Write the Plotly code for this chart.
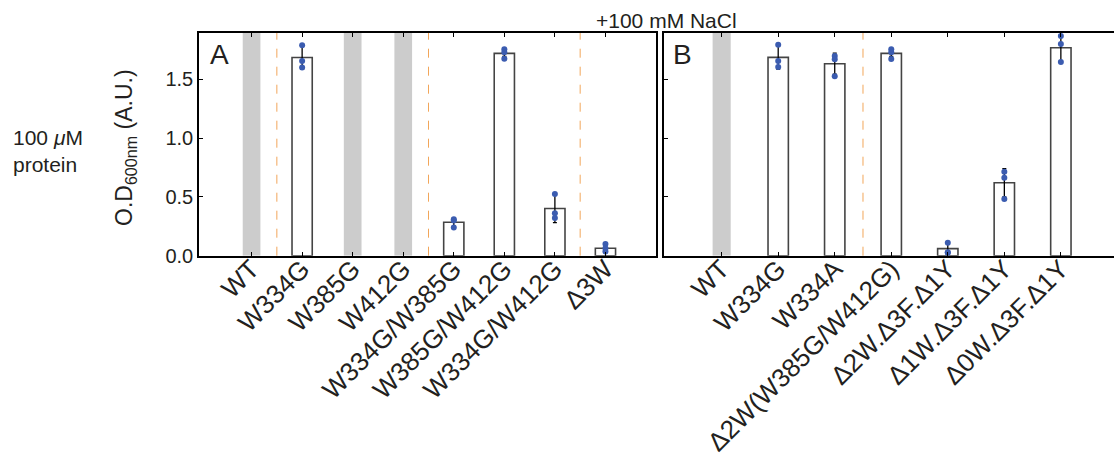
import plotly.graph_objects as go

# ---------------- data ----------------
cats_a = ["WT", "W334G", "W385G", "W412G", "W334G/W385G", "W385G/W412G", "W334G/W412G", "Δ3W"]
mean_a = [None, 1.685, None, None, 0.284, 1.721, 0.401, 0.063]
err_a = [None, 0.10, None, None, 0.035, 0.025, 0.12, 0.035]
rep1_a = [None, 1.79, None, None, 0.31, 1.755, 0.525, 0.10]
rep2_a = [None, 1.655, None, None, 0.30, 1.73, 0.36, 0.063]
rep3_a = [None, 1.60, None, None, 0.24, 1.675, 0.32, 0.035]
gray_a = ["WT", "W385G", "W412G"]
sep_a = [0.5, 3.5, 6.5]

cats_b = ["WT", "W334G", "W334A", "Δ2W(W385G/W412G)", "Δ2W.Δ3F.Δ1Y", "Δ1W.Δ3F.Δ1Y", "Δ0W.Δ3F.Δ1Y"]
mean_b = [None, 1.687, 1.633, 1.721, 0.06, 0.62, 1.769]
err_b = [None, 0.10, 0.09, 0.025, 0.045, 0.12, 0.11]
rep1_b = [None, 1.794, 1.698, 1.755, 0.11, 0.714, 1.868]
rep2_b = [None, 1.656, 1.67, 1.73, 0.03, 0.663, 1.80]
rep3_b = [None, 1.605, 1.526, 1.673, 0.025, 0.482, 1.647]
gray_b = ["WT"]
sep_b = [2.5]

y_max = 1.894
y_ticks = [0.0, 0.5, 1.0, 1.5]

# ---------------- styling ----------------
W, H = 1114, 461
FONT = "Liberation Sans, Arial, sans-serif"
TXT = "#231f20"
BLUE = "#3b5cb0"
GRAY = "#cccccc"
ORANGE = "#f2a65a"


def px_x(p):
    return p / W


def px_y(p):
    return 1 - p / H


fig = go.Figure()


def add_panel(cats, mean, err, reps, gray, xa, ya, bar_w, gray_w):
    # gray "not determined" bands
    fig.add_trace(go.Bar(
        x=gray, y=[y_max] * len(gray), width=gray_w, marker=dict(color=GRAY, line=dict(width=0)),
        xaxis=xa, yaxis=ya, showlegend=False, hoverinfo="skip"))
    # mean bars
    fig.add_trace(go.Bar(
        x=cats, y=mean, width=bar_w,
        marker=dict(color="white", line=dict(color="#444444", width=1.6)),
        error_y=dict(type="data", array=err, visible=True, color="black", thickness=1.3, width=2),
        xaxis=xa, yaxis=ya, showlegend=False))
    # replicates
    for r in reps:
        fig.add_trace(go.Scatter(
            x=cats, y=r, mode="markers",
            marker=dict(color=BLUE, size=6, symbol="circle"),
            xaxis=xa, yaxis=ya, showlegend=False, cliponaxis=False))


add_panel(cats_a, mean_a, err_a, [rep1_a, rep2_a, rep3_a], gray_a, "x", "y", 0.40, 0.35)
add_panel(cats_b, mean_b, err_b, [rep1_b, rep2_b, rep3_b], gray_b, "x2", "y2", 0.36, 0.32)

shapes = []
for s in sep_a:
    shapes.append(dict(type="line", xref="x", yref="y domain", x0=s, x1=s, y0=0, y1=1,
                       line=dict(color=ORANGE, width=1, dash="dash"), layer="below"))
for s in sep_b:
    shapes.append(dict(type="line", xref="x2", yref="y2 domain", x0=s, x1=s, y0=0, y1=1,
                       line=dict(color=ORANGE, width=1, dash="dash"), layer="below"))

ydom = [px_y(255.7), px_y(33)]

xaxis_common = dict(
    type="category", showline=True, linecolor="black", linewidth=1.5, mirror="ticks",
    ticks="inside", ticklen=4, tickcolor="black", tickwidth=1, tickangle=-45,
    ticklabelstandoff=-14,
    tickfont=dict(family=FONT, size=26, color=TXT), showgrid=False, zeroline=False,
    automargin=False, fixedrange=True)

yaxis_common = dict(
    range=[0, y_max], tickvals=y_ticks, showline=True, linecolor="black", linewidth=1.5,
    ticks="inside", ticklen=4, tickcolor="black", tickwidth=1, showgrid=False,
    zeroline=False, automargin=False, domain=ydom,
    tickfont=dict(family=FONT, size=20, color=TXT))

fig.update_layout(
    width=W, height=H, margin=dict(l=0, r=0, t=0, b=0),
    paper_bgcolor="white", plot_bgcolor="white", barmode="overlay",
    xaxis=dict(xaxis_common, domain=[px_x(199), px_x(656)], range=[-1.04, 8.0],
               categoryorder="array", categoryarray=cats_a, anchor="y"),
    xaxis2=dict(xaxis_common, domain=[px_x(664), 1.0], range=[-1.02, 6.94],
                categoryorder="array", categoryarray=cats_b, anchor="y2"),
    yaxis=dict(yaxis_common, anchor="x", mirror=True, tickformat=".1f"),
    yaxis2=dict(yaxis_common, anchor="x2", mirror=False, showticklabels=False),
    shapes=shapes,
    annotations=[
        dict(text="A", x=px_x(208), y=px_y(54), xref="paper", yref="paper", xanchor="left",
             yanchor="middle", showarrow=False, font=dict(family=FONT, size=28, color=TXT)),
        dict(text="B", x=px_x(671), y=px_y(54), xref="paper", yref="paper", xanchor="left",
             yanchor="middle", showarrow=False, font=dict(family=FONT, size=28, color=TXT)),
        dict(text="+100 mM NaCl", x=px_x(666), y=px_y(20), xref="paper", yref="paper",
             xanchor="center", yanchor="middle", showarrow=False,
             font=dict(family=FONT, size=21, color=TXT)),
        dict(text="O.D<sub>600nm</sub> (A.U.)", x=px_x(125), y=px_y(148), xref="paper",
             yref="paper", xanchor="center", yanchor="middle", textangle=-90, showarrow=False,
             font=dict(family=FONT, size=23, color=TXT)),
        dict(text="100 <i>μ</i>M<br>protein", x=px_x(11), y=px_y(151), xref="paper",
             yref="paper", xanchor="left", yanchor="middle", align="left", showarrow=False,
             font=dict(family=FONT, size=21, color=TXT)),
    ],
)

fig.write_html("out.html")
